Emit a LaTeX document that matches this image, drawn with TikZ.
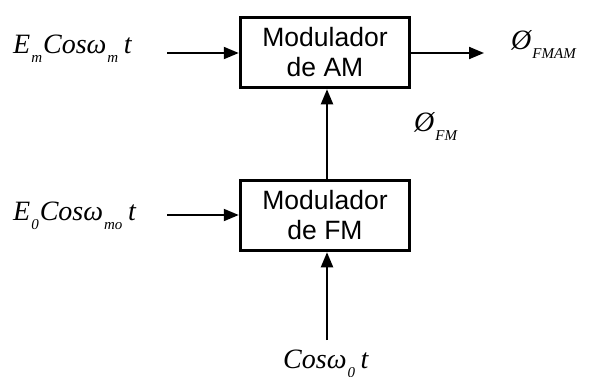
\documentclass[tikz,border=0pt]{standalone}
\usepackage{fontspec}
\setmainfont{Liberation Serif}
\newfontfamily\boxfont{Liberation Sans}
\usetikzlibrary{arrows.meta}

% lowered, smaller index for the signal names
\newcommand\dn[1]{\kern1pt\raisebox{-9pt}{\fontsize{15}{15}\selectfont #1}\kern1pt}

\begin{document}
\begin{tikzpicture}[x=1pt,y=-1pt,
  modbox/.style={draw, line width=3.5pt, minimum width=169pt, minimum height=70pt,
    align=center, inner sep=0pt, font=\boxfont\fontsize{26.5}{30}\selectfont},
  sig/.style={line width=2pt, -{Triangle[length=15pt,width=12pt]}},
  lbl/.style={inner sep=0pt, anchor=base west, font=\itshape\fontsize{28}{28}\selectfont}]
\useasboundingbox (0,0) rectangle (591,376);

% the two modulators
\node[modbox] (am) at (325,52.5) {Modulador\\de AM};
\node[modbox] (fm) at (325,215.5) {Modulador\\de FM};

% loose ends of the signal lines
\coordinate (in1) at (167,53);
\coordinate (in2) at (167,215);
\coordinate (out) at (484,53);
\coordinate (vx)  at (327,0);
\coordinate (in3) at (327,340);

\draw[sig] (in1) -- (in1 -| am.west);
\draw[sig] (in2) -- (in2 -| fm.west);
\draw[sig] (in1 -| am.east) -- (out);
\draw[sig] (vx |- fm.north) -- (vx |- am.south);
\draw[sig] (in3) -- (in3 |- fm.south);

% signal names
\node[lbl] (l1) at (13,53) {E\dn{m}Cosω\dn{m}\,t};
\node[lbl] (l2) at (13,220) {E\dn{0}Cosω\dn{mo}\,t};
\node[lbl] (l3) at (283,368) {Cosω\dn{0}\,t};
\node[lbl] (l4) at (511,49) {Ø\dn{FMAM}};
\node[lbl] (l5) at (414,131) {Ø\dn{FM}};
\end{tikzpicture}
\end{document}
